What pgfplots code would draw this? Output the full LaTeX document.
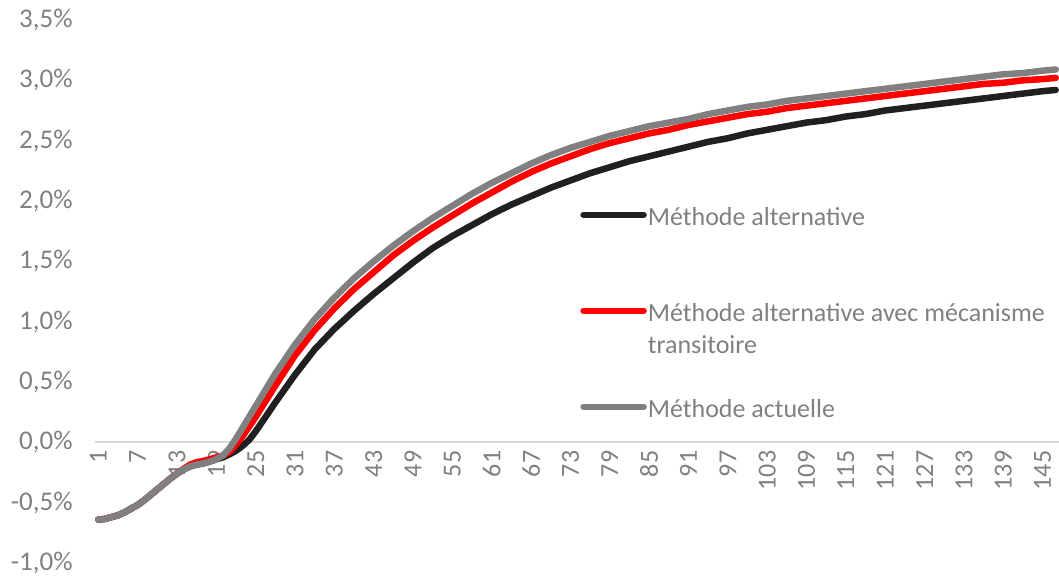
\documentclass[border=0pt]{standalone}
\usepackage{pgfplots}
\pgfplotsset{compat=1.18}
\usepackage{pgfplotstable}
\usepackage{fontspec}
\setmainfont{Carlito}

\definecolor{txtgray}{HTML}{808080}
\definecolor{zeroline}{HTML}{D9D9D9}
\definecolor{serblack}{HTML}{202020}
\definecolor{serred}{HTML}{FF0000}
\definecolor{sergray}{HTML}{808080}

% Méthode actuelle
\pgfplotstableread{
c v
1 -0.64
2 -0.635
3 -0.62
4 -0.605
5 -0.58
6 -0.55
7 -0.52
8 -0.48
9 -0.435
10 -0.39
11 -0.345
12 -0.30
13 -0.26
14 -0.225
15 -0.20
16 -0.185
17 -0.175
18 -0.16
19 -0.14
20 -0.11
21 -0.05
22 0.03
23 0.12
24 0.21
25 0.30
28 0.57
31 0.81
34 1.02
37 1.20
40 1.36
43 1.50
46 1.63
49 1.75
52 1.86
55 1.96
58 2.06
61 2.15
64 2.23
67 2.31
70 2.38
73 2.44
76 2.49
79 2.54
82 2.58
85 2.62
88 2.65
91 2.68
94 2.72
97 2.75
100 2.78
103 2.80
106 2.83
109 2.85
112 2.87
115 2.89
118 2.91
121 2.93
124 2.95
127 2.97
130 2.99
133 3.01
136 3.03
139 3.05
142 3.06
145 3.08
147 3.09
}\actuelle

% Méthode alternative avec mécanisme transitoire
\pgfplotstableread{
c v
1 -0.64
2 -0.635
3 -0.62
4 -0.605
5 -0.58
6 -0.55
7 -0.52
8 -0.48
9 -0.435
10 -0.39
11 -0.345
12 -0.30
13 -0.26
14 -0.22
15 -0.185
16 -0.165
17 -0.155
18 -0.14
19 -0.125
20 -0.11
21 -0.08
22 -0.02
23 0.05
24 0.13
25 0.21
28 0.47
31 0.72
34 0.93
37 1.11
40 1.27
43 1.41
46 1.55
49 1.67
52 1.78
55 1.88
58 1.98
61 2.07
64 2.16
67 2.24
70 2.31
73 2.37
76 2.43
79 2.48
82 2.52
85 2.56
88 2.59
91 2.63
94 2.66
97 2.69
100 2.72
103 2.74
106 2.77
109 2.79
112 2.81
115 2.83
118 2.85
121 2.87
124 2.89
127 2.91
130 2.93
133 2.95
136 2.97
139 2.98
142 3.00
145 3.01
147 3.02
}\transitoire

% Méthode alternative
\pgfplotstableread{
c v
1 -0.64
2 -0.635
3 -0.62
4 -0.605
5 -0.58
6 -0.55
7 -0.52
8 -0.48
9 -0.435
10 -0.39
11 -0.345
12 -0.30
13 -0.26
14 -0.225
15 -0.20
16 -0.185
17 -0.175
18 -0.16
19 -0.14
20 -0.125
21 -0.10
22 -0.07
23 -0.03
24 0.02
25 0.09
28 0.33
31 0.56
34 0.77
37 0.94
40 1.09
43 1.23
46 1.36
49 1.49
52 1.61
55 1.71
58 1.80
61 1.89
64 1.97
67 2.04
70 2.11
73 2.17
76 2.23
79 2.28
82 2.33
85 2.37
88 2.41
91 2.45
94 2.49
97 2.52
100 2.56
103 2.59
106 2.62
109 2.65
112 2.67
115 2.70
118 2.72
121 2.75
124 2.77
127 2.79
130 2.81
133 2.83
136 2.85
139 2.87
142 2.89
145 2.91
147 2.92
}\alternative

\begin{document}
\begin{tikzpicture}
\begin{axis}[
  name=ax,
  scale only axis,
  width=482pt, height=271.5pt,
  xmin=0.5, xmax=147.5,
  ymin=-1, ymax=3.5,
  axis x line=middle,
  axis y line=left,
  axis line style={-},
  x axis line style={draw=zeroline, line width=1pt},
  y axis line style={draw=none},
  xtick={1,7,...,145},
  ytick={-1,-0.5,...,3.5},
  yticklabels={{-1,0\%},{-0,5\%},{0,0\%},{0,5\%},{1,0\%},{1,5\%},{2,0\%},{2,5\%},{3,0\%},{3,5\%}},
  xticklabel={\pgfmathprintnumber[int detect]{\tick}},
  /pgf/number format/assume math mode=true,
  major tick length=0pt,
  tick style={draw=none},
  xticklabel style={yshift=-4pt, rotate=90, anchor=east, inner sep=0pt,
    font=\fontsize{13}{15}\selectfont, text=txtgray},
  yticklabel style={anchor=east, inner sep=0pt, xshift=-11pt,
    font=\fontsize{13.5}{16}\selectfont, text=txtgray},
  clip=false,
  legend cell align=left,
  legend image code/.code={\draw[#1, line cap=round] (0pt,3pt) -- (30pt,3pt);},
  legend style={
    at={(axis cs:74.45,1.93)}, anchor=north west,
    draw=none, fill=none, inner sep=0pt,
    column sep=0.5pt, row sep=37pt,
    font=\fontsize{13}{16}\selectfont, text=txtgray,
    nodes={inner sep=0pt, text height=8pt, text depth=3pt},
  },
]
\addplot[serblack, line width=3.25pt, line join=round, line cap=round] table[x=c, y=v] {\alternative};
\addlegendentry{Méthode alternative}
\addplot[serred, line width=3.25pt, line join=round, line cap=round] table[x=c, y=v] {\transitoire};
\addlegendentry{\vtop{\baselineskip=16pt\hbox{Méthode alternative avec mécanisme}\hbox{transitoire}}}
\addplot[sergray, line width=3.25pt, line join=round, line cap=round] table[x=c, y=v] {\actuelle};
\addlegendentry{Méthode actuelle}
\end{axis}
\pgfresetboundingbox
\useasboundingbox ([xshift=-47.5pt, yshift=-6.5pt]ax.south west) rectangle ([yshift=10pt]ax.north east);
\end{tikzpicture}
\end{document}
